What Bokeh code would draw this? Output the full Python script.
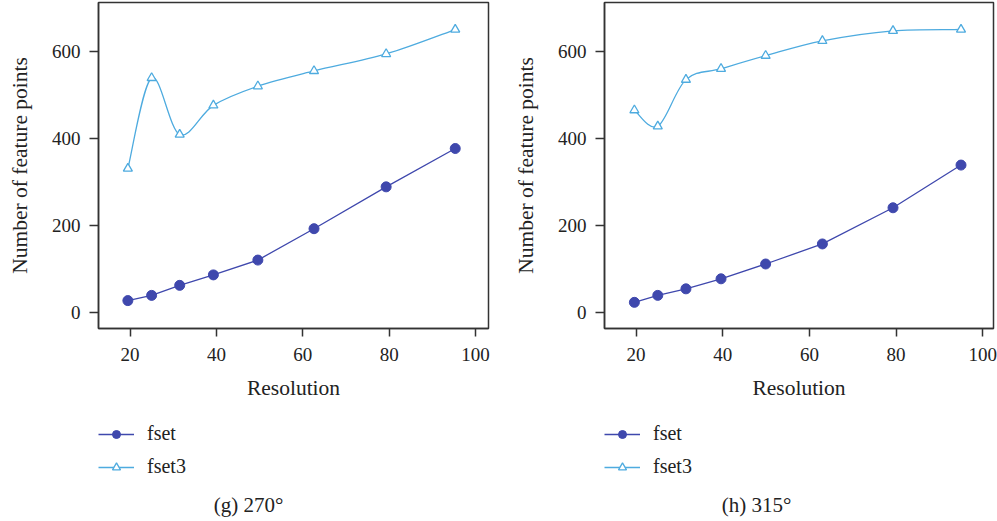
from bokeh.plotting import figure
from bokeh.layouts import row, column
from bokeh.models import Range1d, FixedTicker, Legend, LegendItem, Label, ColumnDataSource
from bokeh.embed import file_html
from bokeh.resources import INLINE

# ---- data ----
res_g = [19.5, 25.0, 31.5, 39.3, 49.6, 62.6, 79.3, 95.3]
fset_g = [28, 40, 63, 87, 121, 193, 289, 377]
fset3_g = [331, 539, 409, 476, 520, 555, 594, 650]

res_h = [19.6, 25.0, 31.5, 39.6, 49.9, 63.0, 79.3, 95.0]
fset_h = [24, 40, 55, 78, 112, 158, 241, 339]
fset3_h = [465, 428, 535, 560, 590, 624, 647, 650]

x_ticks = [20, 40, 60, 80, 100]
y_ticks = [0, 200, 400, 600]
series_names = ["fset", "fset3"]
captions = ["(g) 270°", "(h) 315°"]

C_FSET = "#3f48ad"
C_FSET3 = "#4eabdf"
C_TEXT = "#222222"
C_AXIS = "#333333"
FONT = "Liberation Serif"


def smooth_source(xs, ys):
    """Bezier control points (Catmull-Rom style) so the library draws a smooth curve."""
    n = len(xs)
    d = dict(x0=[], y0=[], x1=[], y1=[], cx0=[], cy0=[], cx1=[], cy1=[])
    for i in range(n - 1):
        xp, yp = (xs[i - 1], ys[i - 1]) if i > 0 else (xs[i], ys[i])
        xn, yn = (xs[i + 2], ys[i + 2]) if i + 2 < n else (xs[i + 1], ys[i + 1])
        d["x0"].append(xs[i]); d["y0"].append(ys[i])
        d["x1"].append(xs[i + 1]); d["y1"].append(ys[i + 1])
        d["cx0"].append(xs[i] + (xs[i + 1] - xp) / 6.0)
        d["cy0"].append(ys[i] + (ys[i + 1] - yp) / 6.0)
        d["cx1"].append(xs[i + 1] - (xn - xs[i]) / 6.0)
        d["cy1"].append(ys[i + 1] - (yn - ys[i]) / 6.0)
    return ColumnDataSource(d)


def add_series(p, res, fset, fset3):
    # fset: straight line with filled circles
    l1 = p.line(res, fset, line_color=C_FSET, line_width=1.3)
    s1 = p.scatter(res, fset, marker="circle", size=10, fill_color=C_FSET, line_color=C_FSET)
    # fset3: smooth curve with open triangles
    l2 = p.bezier(x0="x0", y0="y0", x1="x1", y1="y1", cx0="cx0", cy0="cy0", cx1="cx1", cy1="cy1",
                  source=smooth_source(res, fset3), line_color=C_FSET3, line_width=1.3)
    s2 = p.scatter(res, fset3, marker="triangle", size=9, fill_color="white",
                   line_color=C_FSET3, line_width=1.3)
    return l1, s1, l2, s2


def chart(res, fset, fset3, width, border_left, border_right, xr):
    p = figure(width=width, height=415, output_backend="svg", toolbar_location=None,
               x_range=Range1d(*xr), y_range=Range1d(-36, 712),
               min_border_left=border_left, min_border_right=border_right,
               min_border_top=2, min_border_bottom=87)
    p.xgrid.visible = False
    p.ygrid.visible = False
    p.outline_line_color = C_AXIS
    p.outline_line_width = 1.5
    p.border_fill_color = "white"

    for ax in (p.xaxis[0], p.yaxis[0]):
        ax.axis_line_color = C_AXIS
        ax.axis_line_width = 1.5
        ax.major_tick_line_color = C_AXIS
        ax.major_tick_line_width = 1.5
        ax.minor_tick_line_color = None
        ax.major_tick_in = 0
        ax.major_label_text_font = FONT
        ax.major_label_text_font_size = "19px"
        ax.major_label_text_color = C_TEXT
        ax.axis_label_text_font = FONT
        ax.axis_label_text_font_size = "21.5px"
        ax.axis_label_text_font_style = "normal"
        ax.axis_label_text_color = C_TEXT
    p.xaxis[0].ticker = FixedTicker(ticks=x_ticks)
    p.yaxis[0].ticker = FixedTicker(ticks=y_ticks)
    p.xaxis[0].major_tick_out = 8
    p.yaxis[0].major_tick_out = 9
    p.xaxis[0].major_label_standoff = 11
    p.yaxis[0].major_label_standoff = 9
    p.xaxis[0].axis_label = "Resolution"
    p.yaxis[0].axis_label = "Number of feature points"
    p.xaxis[0].axis_label_standoff = 12
    p.yaxis[0].axis_label_standoff = 17

    add_series(p, res, fset, fset3)
    return p


def legend_box(width, border_left, border_right, caption, cap_x, res, fset, fset3):
    top = 7
    q = figure(width=width, height=106, output_backend="svg", toolbar_location=None,
               x_range=Range1d(border_left, width - border_right), y_range=Range1d(106, top),
               x_axis_location=None, y_axis_location=None,
               min_border_left=border_left, min_border_right=border_right,
               min_border_top=top, min_border_bottom=0)
    q.xgrid.visible = False
    q.ygrid.visible = False
    q.outline_line_color = None
    q.border_fill_color = "white"

    # hidden copies of the series, only used as legend glyph sources
    l1, s1, l2, s2 = add_series(q, res, fset, fset3)
    for r in (l1, s1, l2, s2):
        r.visible = False

    legend = Legend(items=[LegendItem(label=series_names[0], renderers=[l1, s1]),
                           LegendItem(label=series_names[1], renderers=[l2, s2])],
                    orientation="vertical", location="top_left",
                    label_text_font=FONT, label_text_font_size="20px",
                    label_text_color=C_TEXT,
                    glyph_width=36, glyph_height=20, label_height=20,
                    label_standoff=13, spacing=10, padding=0, margin=0,
                    border_line_color=None, background_fill_alpha=0,
                    inactive_fill_alpha=0)
    q.add_layout(legend)
    q.add_layout(Label(x=cap_x, y=89, text=caption, text_font=FONT, text_font_size="21px",
                       text_color=C_TEXT, text_align="center", text_baseline="middle"))
    return q


p1 = chart(res_g, fset_g, fset3_g, 500, 98, 12, (12.7, 103.0))
p2 = chart(res_h, fset_h, fset3_h, 497, 104, 4, (12.7, 102.5))
q1 = legend_box(500, 98, 12, captions[0], 248, res_g, fset_g, fset3_g)
q2 = legend_box(497, 104, 4, captions[1], 256, res_h, fset_h, fset3_h)

layout = row(column(p1, q1), column(p2, q2))
open("out.html", "w").write(file_html(layout, INLINE))
